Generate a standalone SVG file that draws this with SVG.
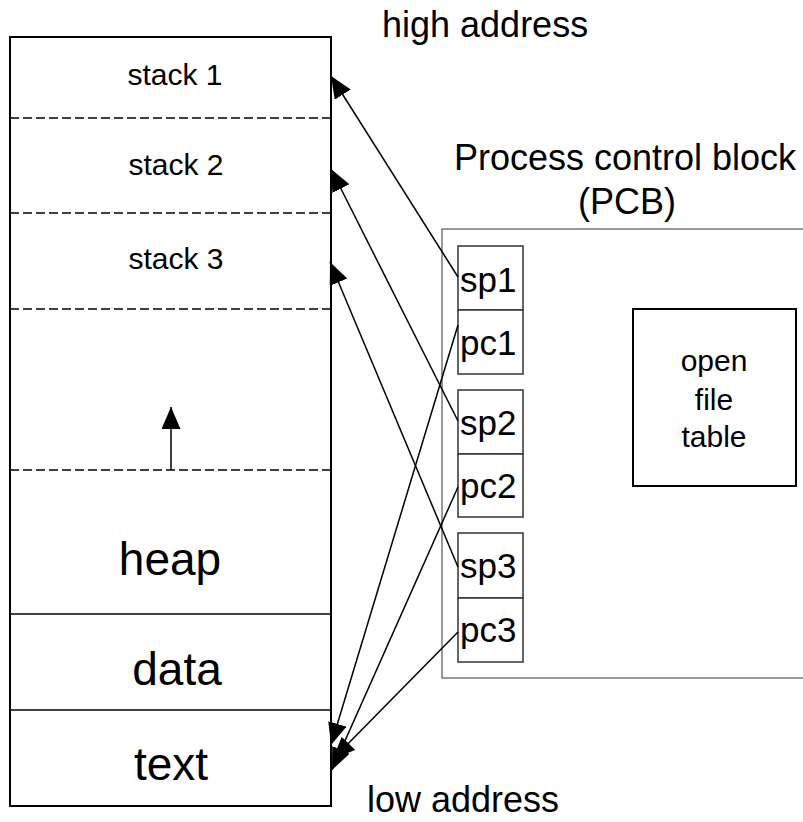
<svg xmlns="http://www.w3.org/2000/svg" width="803" height="822" viewBox="0 0 803 822">
  <style>
    text { font-family: "Liberation Sans", Arial, sans-serif; fill: #000; }
    .mem { fill: #fff; stroke: #000; stroke-width: 2; }
    .div { stroke: #000; stroke-width: 1.5; }
    .dash { stroke: #000; stroke-width: 1.5; stroke-dasharray: 9 4; }
    .reg { fill: #fff; stroke: #333; stroke-width: 1.5; }
    .pcb { fill: #fff; stroke: #555; stroke-width: 1.2; }
    .link { fill: none; stroke: #000; stroke-width: 1.5; marker-end: url(#head); }
    .small { font-size: 30px; text-anchor: middle; }
    .big { font-size: 46px; text-anchor: middle; }
    .title { font-size: 36px; }
    .regl { font-size: 35px; }
  </style>
  <defs>
    <marker id="head" markerUnits="userSpaceOnUse" markerWidth="23" markerHeight="20" refX="22" refY="9.5" orient="auto">
      <path d="M0,0 L22,9.5 L0,19 z" fill="#000"/>
    </marker>
  </defs>

  <!-- address labels -->
  <text class="title" x="382" y="37">high address</text>
  <text class="title" x="367" y="812">low address</text>

  <!-- process address space -->
  <g id="memory">
    <rect class="mem" x="10" y="37" width="321" height="769"/>
    <line class="dash" x1="10" y1="118" x2="331" y2="118"/>
    <line class="dash" x1="10" y1="213" x2="331" y2="213"/>
    <line class="dash" x1="10" y1="309" x2="331" y2="309"/>
    <line class="dash" x1="10" y1="470" x2="331" y2="470"/>
    <line class="div" x1="10" y1="614" x2="331" y2="614"/>
    <line class="div" x1="10" y1="710" x2="331" y2="710"/>
  </g>
  <g id="stack1"><text class="small" x="175" y="85">stack 1</text></g>
  <g id="stack2"><text class="small" x="176" y="175">stack 2</text></g>
  <g id="stack3"><text class="small" x="176" y="269">stack 3</text></g>
  <g id="heap"><text class="big" x="170" y="575">heap</text></g>
  <g id="data"><text class="big" x="177" y="685">data</text></g>
  <g id="text"><text class="big" x="171" y="780">text</text></g>

  <!-- process control block -->
  <g id="pcb">
    <text class="title" x="625" y="170" text-anchor="middle">Process control block</text>
    <text class="title" x="627" y="214" text-anchor="middle">(PCB)</text>
    <rect class="pcb" x="442" y="229" width="380" height="449"/>
  </g>
  <g id="sp1"><rect class="reg" x="458" y="246" width="65" height="64"/><text class="regl" x="460" y="292">sp1</text></g>
  <g id="pc1"><rect class="reg" x="458" y="310" width="65" height="64"/><text class="regl" x="460" y="355">pc1</text></g>
  <g id="sp2"><rect class="reg" x="458" y="390" width="65" height="64"/><text class="regl" x="460" y="435">sp2</text></g>
  <g id="pc2"><rect class="reg" x="458" y="454" width="65" height="63"/><text class="regl" x="460" y="498">pc2</text></g>
  <g id="sp3"><rect class="reg" x="458" y="533" width="65" height="65"/><text class="regl" x="460" y="578">sp3</text></g>
  <g id="pc3"><rect class="reg" x="458" y="598" width="65" height="64"/><text class="regl" x="460" y="642">pc3</text></g>
  <g id="openfiles">
    <rect x="633" y="309" width="163" height="177" fill="#fff" stroke="#000" stroke-width="2"/>
    <text class="small" x="714" y="371">open</text>
    <text class="small" x="714" y="410">file</text>
    <text class="small" x="714" y="447">table</text>
  </g>

  <!-- connectors -->
  <g id="connectors">
    <line class="link" x1="171" y1="470" x2="171" y2="407"/>
    <line class="link" x1="458" y1="277" x2="331" y2="76"/>
    <line class="link" x1="458" y1="421" x2="331" y2="169"/>
    <line class="link" x1="458" y1="567" x2="330" y2="262"/>
    <line class="link" x1="458" y1="325" x2="331" y2="745"/>
    <line class="link" x1="458" y1="487" x2="332" y2="770"/>
    <line class="link" x1="458" y1="632" x2="333" y2="759"/>
  </g>
</svg>
